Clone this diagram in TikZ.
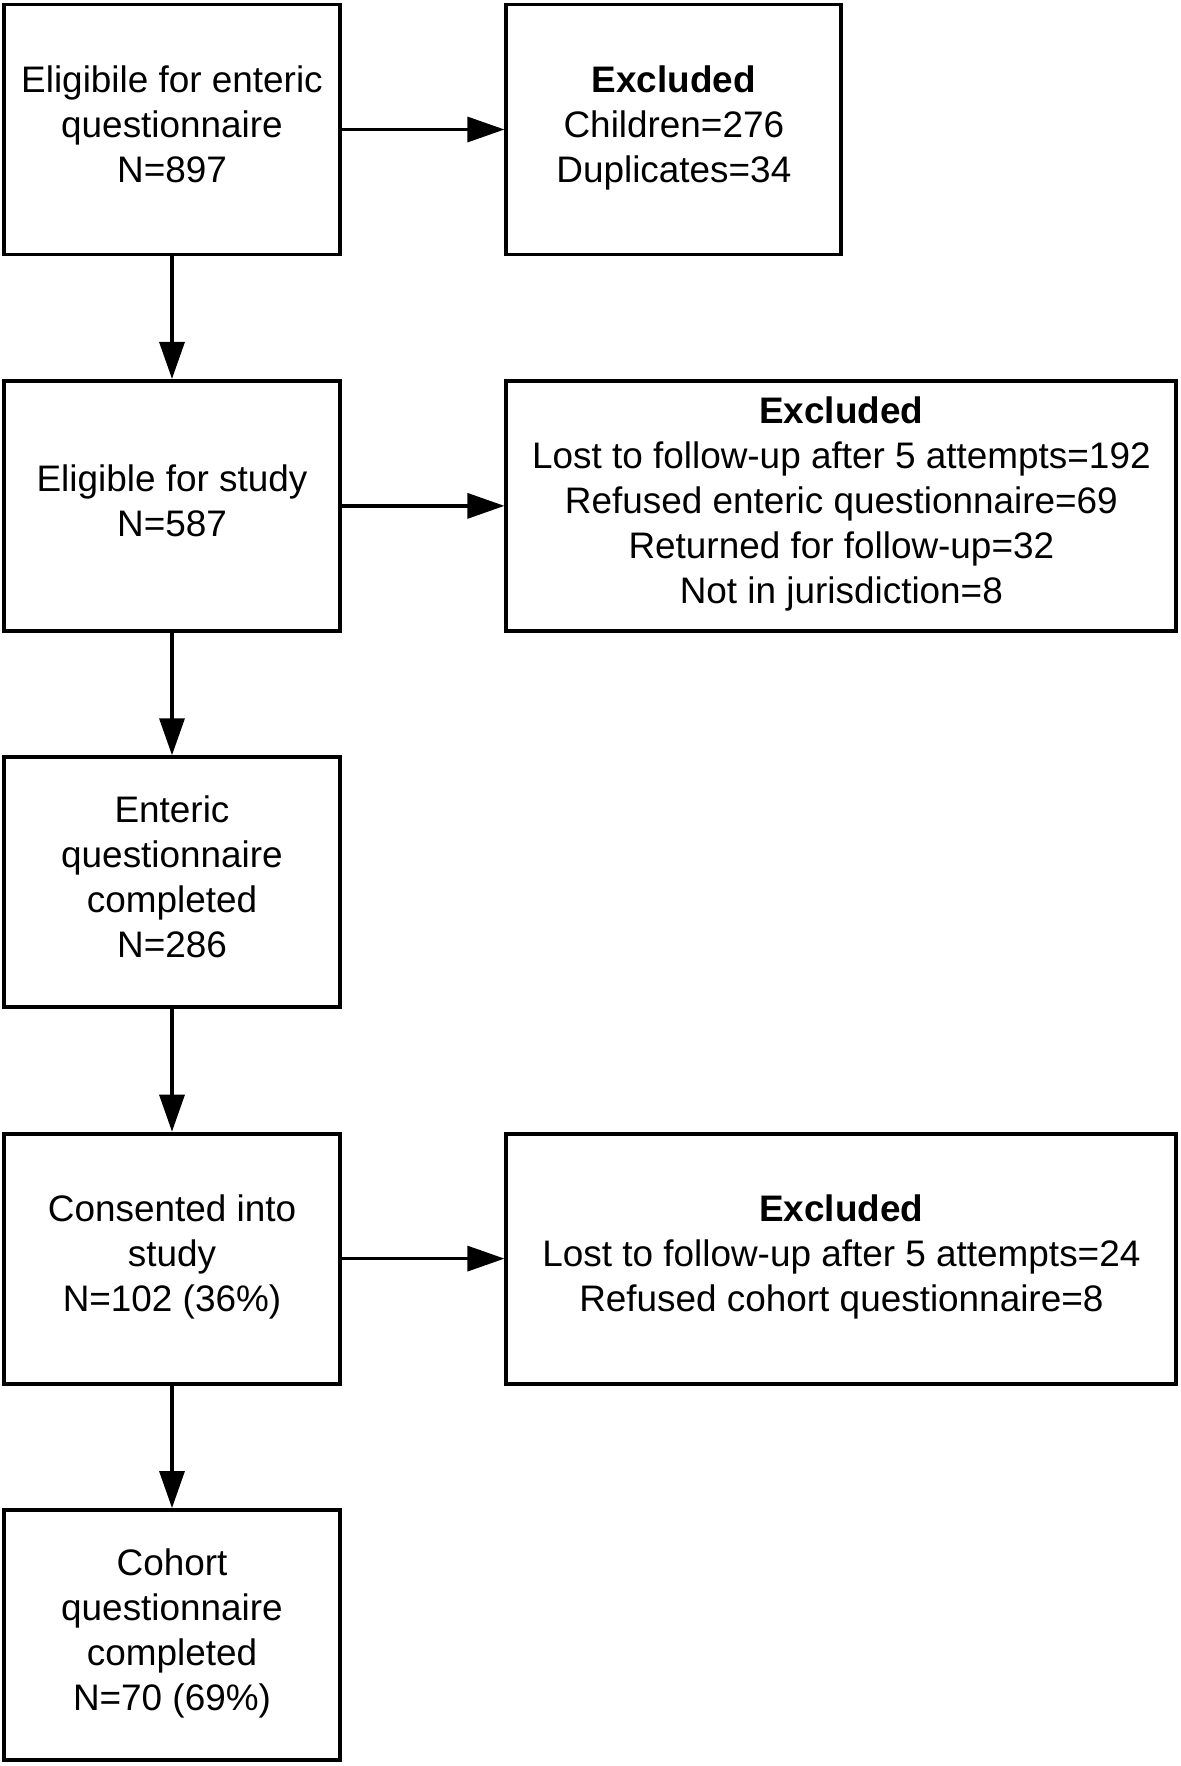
\documentclass[tikz,border=0pt]{standalone}
\usepackage{fontspec}
\setmainfont{Liberation Sans}
\usepackage{tikz}
\usetikzlibrary{positioning, arrows.meta}

\begin{document}
\begin{tikzpicture}[
        node distance=2.45cm,
        stage/.style={rectangle, minimum width=6.72cm, minimum height=5cm, text centered, align=center, text depth=0.22cm, draw=black, line width=2.2pt, font=\fontsize{21}{25.6}\selectfont},
        excluded/.style={stage, minimum width=6.7cm},
        wideexcluded/.style={stage, minimum width=13.4cm},
        arrow/.style={line width=1.9pt, -{Triangle[length=0.74cm, width=0.5cm]}}
    ]
        \useasboundingbox (0,0) rectangle (23.62,-35.32);

        % ===== main column =====
        \node (eligEnteric) [stage] at (3.44,-2.59) {Eligibile for enteric\\questionnaire\\N=897};
        \node (eligStudy) [stage, below=of eligEnteric] {Eligible for study\\N=587};
        \node (entericDone) [stage, below=of eligStudy] {Enteric\\questionnaire\\completed\\N=286};
        \node (consented) [stage, below=of entericDone] {Consented into\\study\\N=102 (36\%)};
        \node (cohortDone) [stage, below=of consented] {Cohort\\questionnaire\\completed\\N=70 (69\%)};

        % ===== exclusions =====
        \node (exclOne) [excluded, right=3.25cm of eligEnteric] {\textbf{Excluded}\\Children=276\\Duplicates=34};
        \node (exclTwo) [wideexcluded, right=3.25cm of eligStudy] {\textbf{Excluded}\\Lost to follow-up after 5 attempts=192\\Refused enteric questionnaire=69\\Returned for follow-up=32\\Not in jurisdiction=8};
        \node (exclThree) [wideexcluded, right=3.25cm of consented] {\textbf{Excluded}\\Lost to follow-up after 5 attempts=24\\Refused cohort questionnaire=8};

        % ===== arrows =====
        \draw [arrow] (eligEnteric) -- (eligStudy);
        \draw [arrow] (eligStudy) -- (entericDone);
        \draw [arrow] (entericDone) -- (consented);
        \draw [arrow] (consented) -- (cohortDone);

        \draw [arrow] (eligEnteric) -- (exclOne);
        \draw [arrow] (eligStudy) -- (exclTwo);
        \draw [arrow] (consented) -- (exclThree);

    \end{tikzpicture}
\end{document}
